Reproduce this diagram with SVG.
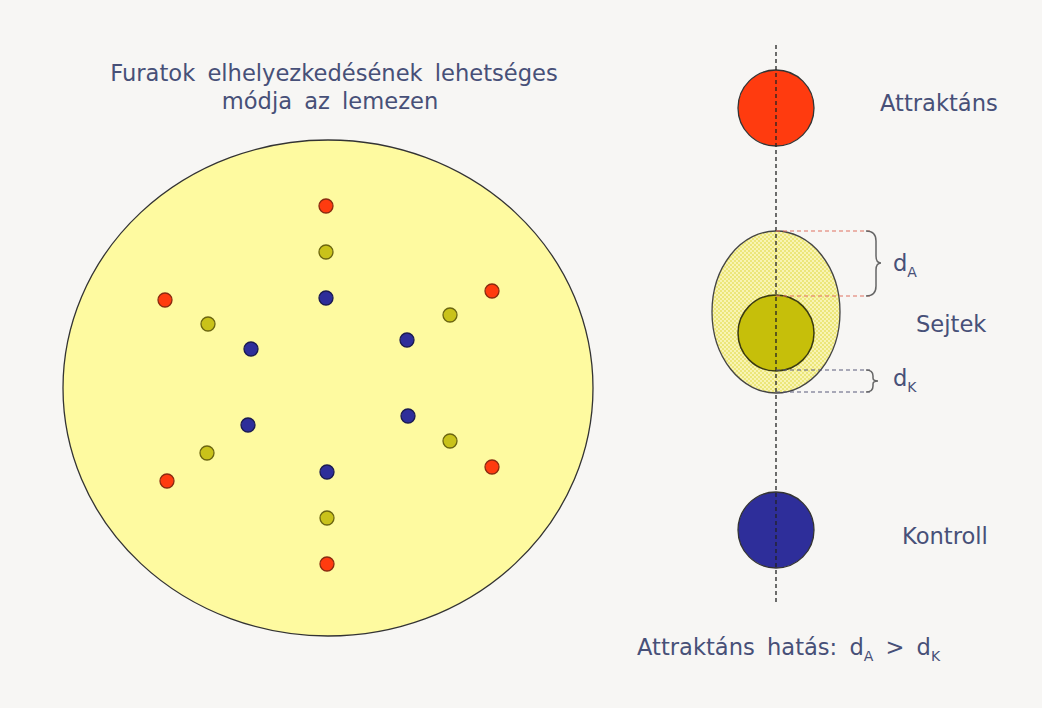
<svg xmlns="http://www.w3.org/2000/svg" width="1042" height="708" viewBox="0 0 1042 708">
<defs>
<pattern id="dots" width="4" height="4" patternUnits="userSpaceOnUse">
<rect width="4" height="4" fill="#ece67a"/>
<circle cx="1" cy="1" r="0.9" fill="#fffbd0"/>
<circle cx="3" cy="3" r="0.9" fill="#fffbd0"/>
</pattern>
</defs>
<style>
text{font-family:"DejaVu Sans","Open Sans",sans-serif;fill:#475078;font-size:22.6px;word-spacing:5px}
.r{fill:#ff3b0f;stroke:#8a2a10;stroke-width:1.3}
.y{fill:#c9c21a;stroke:#6b6510;stroke-width:1.3}
.b{fill:#2e2e9a;stroke:#1a1a50;stroke-width:1.3}
.big{stroke:#333;stroke-width:1.3}
.axis{stroke:#222;stroke-width:1.3;stroke-dasharray:4,3;fill:none}
.ra{stroke:#e07060;stroke-width:1.2;stroke-dasharray:4,3;fill:none}
.ka{stroke:#5a5a7a;stroke-width:1.2;stroke-dasharray:4,3;fill:none}
.br{stroke:#666;stroke-width:1.5;fill:none}
</style>
<rect width="1042" height="708" fill="#f7f6f4"/>
<g id="title">
<text x="334" y="81" text-anchor="middle">Furatok elhelyezkedésének lehetséges</text>
<text x="330" y="109" text-anchor="middle">módja az lemezen</text>
</g>
<g id="plate">
<ellipse cx="328" cy="388" rx="265" ry="248" fill="#fefaa0" stroke="#333" stroke-width="1.3"/>
<circle class="r" cx="326" cy="206" r="7"/>
<circle class="r" cx="165" cy="300" r="7"/>
<circle class="r" cx="492" cy="291" r="7"/>
<circle class="r" cx="167" cy="481" r="7"/>
<circle class="r" cx="492" cy="467" r="7"/>
<circle class="r" cx="327" cy="564" r="7"/>
<circle class="y" cx="326" cy="252" r="7"/>
<circle class="y" cx="208" cy="324" r="7"/>
<circle class="y" cx="450" cy="315" r="7"/>
<circle class="y" cx="207" cy="453" r="7"/>
<circle class="y" cx="450" cy="441" r="7"/>
<circle class="y" cx="327" cy="518" r="7"/>
<circle class="b" cx="326" cy="298" r="7"/>
<circle class="b" cx="251" cy="349" r="7"/>
<circle class="b" cx="407" cy="340" r="7"/>
<circle class="b" cx="248" cy="425" r="7"/>
<circle class="b" cx="408" cy="416" r="7"/>
<circle class="b" cx="327" cy="472" r="7"/>
</g>
<g id="attraktans">
<circle class="r big" cx="776" cy="108" r="38"/>
<text x="880" y="111">Attraktáns</text>
</g>
<g id="sejtek">
<ellipse cx="776" cy="312" rx="64" ry="81" fill="url(#dots)" stroke="#444" stroke-width="1.3"/>
<circle cx="776" cy="333" r="38" fill="#c6bf0a" stroke="#3a3a10" stroke-width="1.5"/>
<text x="916" y="332">Sejtek</text>
</g>
<g id="kontroll">
<circle class="b big" cx="776" cy="530" r="38"/>
<text x="902" y="544">Kontroll</text>
</g>
<g id="connectors">
<line class="axis" x1="776" y1="45" x2="776" y2="602"/>
<line class="ra" x1="776" y1="231" x2="870" y2="231"/>
<line class="ra" x1="776" y1="296" x2="870" y2="296"/>
<path class="br" d="M866,231 Q876,231 876,241 L876,256 Q876,263 881,263 Q876,263 876,270 L876,286 Q876,296 866,296"/>
<line class="ka" x1="776" y1="370" x2="870" y2="370"/>
<line class="ka" x1="776" y1="392" x2="870" y2="392"/>
<path class="br" d="M866,370 Q873,370 873,376 L873,378 Q873,381 878,381 Q873,381 873,384 L873,386 Q873,392 866,392"/>
</g>
<g id="labels">
<text x="893" y="271">d<tspan font-size="14" dy="6">A</tspan></text>
<text x="893" y="386">d<tspan font-size="14" dy="6">K</tspan></text>
<text x="637" y="655">Attraktáns hatás: d<tspan font-size="14" dy="6">A</tspan><tspan dy="-6"> &gt; d</tspan><tspan font-size="14" dy="6">K</tspan></text>
</g>
</svg>
